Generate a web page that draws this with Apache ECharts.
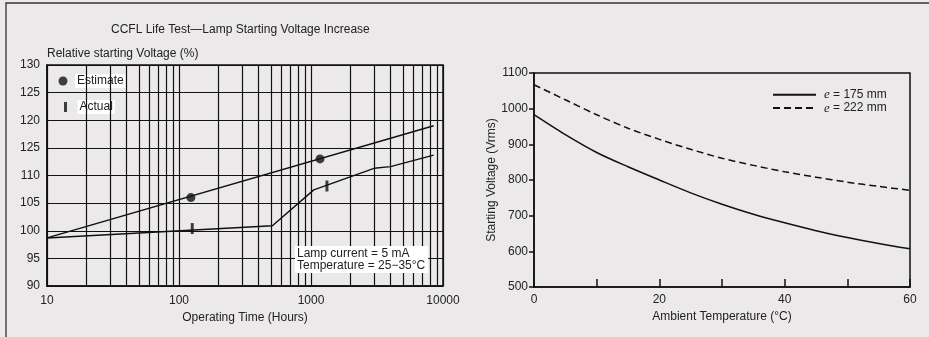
<!DOCTYPE html>
<html>
<head>
<meta charset="utf-8">
<title>CCFL starting voltage</title>
<script src="https://cdn.jsdelivr.net/npm/echarts@6.0.0/dist/echarts.min.js"></script>
<style>
  html, body { margin: 0; padding: 0; background: #ebe9ea; }
  #main { width: 929px; height: 337px; }
</style>
</head>
<body>
<div id="main"></div>
<script>
// left panel: life test, hours on a log axis
var estimateLineHours = [10, 8500];
var estimateLineValues = [98.7, 119.0];
var actualLineHours = [10, 510, 1050, 3000, 4000, 8500];
var actualLineValues = [98.7, 100.9, 107.4, 111.3, 111.6, 113.7];
var estimateHours = [123, 1170];
var estimateValues = [106, 113];
var actualHours = [126, 1320];
var actualValues = [100.4, 108.1];
// log paper lines
var logGridHours = [20, 30, 40, 50, 60, 70, 80, 90,
                    200, 300, 400, 500, 600, 700, 800, 900,
                    2000, 3000, 4000, 5000, 6000, 7000, 8000, 9000];
var leftYTicks = [90, 95, 100, 105, 110, 115, 120, 125, 130];
var leftYLabels = ['90', '95', '100', '105', '110', '125', '120', '125', '130'];

// right panel: starting voltage vs ambient temperature
var ambientTemp = [0, 5, 10, 15, 20, 25, 30, 35, 40, 45, 50, 55, 60];
var voltage175 = [983, 927, 877, 837, 800, 764, 732, 704, 680, 658, 639, 622, 607];
var voltage222 = [1067, 1025, 983, 945, 914, 886, 861, 841, 823, 808, 794, 782, 771];

function pairs(xs, ys) {
  return xs.map(function (x, i) { return [x, ys[i]]; });
}

var FONT = "'Liberation Sans', Arial, sans-serif";
var INK = '#111';
var TXT = '#222';

var myChart = echarts.init(document.getElementById('main'));

var option = {
  backgroundColor: '#ebe9ea',
  animation: false,
  textStyle: { fontFamily: FONT, color: TXT },
  graphic: [{
    type: 'rect', silent: true, z: -1,
    shape: { x: 6, y: 3, width: 1000, height: 400 },
    style: { fill: null, stroke: '#333', lineWidth: 1.3 }
  }],
  title: [{
    text: 'CCFL Life Test\u2014Lamp Starting Voltage Increase',
    left: 111, top: 24, padding: 0,
    textStyle: { fontSize: 12, fontWeight: 'normal', color: TXT, fontFamily: FONT }
  }, {
    text: 'Lamp current = 5 mA\nTemperature = 25\u221235\u00b0C',
    left: 295, top: 246, padding: [1, 3, 1, 2],
    backgroundColor: '#fff',
    textStyle: { fontSize: 12, fontWeight: 'normal', lineHeight: 12.5, color: TXT, fontFamily: FONT }
  }],
  legend: [{
    data: [{ name: 'Estimate', icon: 'circle' }],
    left: 58.5, top: 74, padding: 0,
    itemWidth: 14, itemHeight: 9,
    textStyle: { fontSize: 12, color: TXT, backgroundColor: '#fff', padding: [1, 2, 1, 2] }
  }, {
    data: [{ name: 'Actual', icon: 'path://M0,0L0,0M5.5,0L8.5,0L8.5,10L5.5,10ZM14,10L14,10' }],
    left: 58.5, top: 100, padding: 0,
    itemWidth: 14, itemHeight: 10,
    textStyle: { fontSize: 12, color: TXT, backgroundColor: '#fff', padding: [1, 2, 1, 2] }
  }, {
    data: ['e = 175 mm', 'e = 222 mm'],
    orient: 'vertical',
    left: 772, top: 88, padding: 0,
    itemWidth: 43, itemHeight: 10, itemGap: 0,
    itemStyle: { color: 'rgba(0,0,0,0)', borderWidth: 0, opacity: 0 },
    formatter: function (name) { return '{i|e}' + name.slice(1); },
    textStyle: {
      fontSize: 12, color: TXT, lineHeight: 13.4, padding: [0, 0, 0, 3],
      rich: { i: { fontFamily: "'Liberation Serif', serif", fontStyle: 'italic', fontSize: 13 } }
    }
  }],
  grid: [
    { left: 47, right: 486, top: 65, bottom: 51, show: true, borderColor: INK, borderWidth: 1.5 },
    { left: 534, right: 19, top: 73, bottom: 50, show: true, borderColor: INK, borderWidth: 1.5 }
  ],
  xAxis: [{
    gridIndex: 0, type: 'log', logBase: 10, min: 10, max: 10000,
    name: 'Operating Time (Hours)', nameLocation: 'middle', nameGap: 25,
    nameTextStyle: { fontSize: 12, color: TXT },
    axisLine: { lineStyle: { color: INK, width: 1.5 } },
    axisTick: { show: false },
    axisLabel: { fontSize: 12, color: TXT, margin: 9, formatter: function (v) { return String(Math.round(v)); } },
    splitLine: { show: true, lineStyle: { color: INK, width: 1.2 } }
  }, {
    gridIndex: 1, type: 'value', min: 0, max: 60, interval: 10,
    name: 'Ambient Temperature (\u00b0C)', nameLocation: 'middle', nameGap: 24,
    nameTextStyle: { fontSize: 12, color: TXT },
    axisLine: { lineStyle: { color: INK, width: 1.5 } },
    axisTick: { show: true, inside: true, length: 8, lineStyle: { color: INK, width: 1.5 } },
    axisLabel: { fontSize: 12, color: TXT, margin: 7, formatter: function (v) { return v % 20 === 0 ? String(v) : ''; } },
    splitLine: { show: false }
  }],
  yAxis: [{
    gridIndex: 0, type: 'value', min: 90, max: 130, interval: 5,
    name: 'Relative starting Voltage (%)', nameLocation: 'end', nameGap: 5,
    nameTextStyle: { fontSize: 12, color: TXT, align: 'left' },
    axisLine: { show: true, lineStyle: { color: INK, width: 1.5 } },
    axisTick: { show: false },
    axisLabel: {
      fontSize: 12, color: TXT, margin: 7,
      formatter: function (v) { return leftYLabels[leftYTicks.indexOf(Math.round(v))]; }
    },
    splitLine: { show: true, lineStyle: { color: INK, width: 1.2 } }
  }, {
    gridIndex: 1, type: 'value', min: 500, max: 1100, interval: 100,
    name: 'Starting Voltage (Vrms)', nameLocation: 'middle', nameGap: 36,
    nameTextStyle: { fontSize: 12, color: TXT },
    axisLine: { show: true, lineStyle: { color: INK, width: 1.5 } },
    axisTick: { show: true, length: 5, lineStyle: { color: INK, width: 1.5 } },
    axisLabel: { fontSize: 12, color: TXT, margin: 6, formatter: function (v) { return String(v); } },
    splitLine: { show: false }
  }],
  series: [{
    name: 'Estimate trend', type: 'line', xAxisIndex: 0, yAxisIndex: 0,
    data: pairs(estimateLineHours, estimateLineValues),
    symbol: 'none', lineStyle: { color: INK, width: 1.4 },
    markLine: {
      silent: true, symbol: ['none', 'none'], label: { show: false },
      lineStyle: { color: INK, width: 1.2, type: 'solid' },
      data: logGridHours.map(function (h) { return { xAxis: h }; })
    }
  }, {
    name: 'Actual trend', type: 'line', xAxisIndex: 0, yAxisIndex: 0,
    data: pairs(actualLineHours, actualLineValues),
    symbol: 'none', lineStyle: { color: INK, width: 1.4 }
  }, {
    name: 'Estimate', type: 'scatter', xAxisIndex: 0, yAxisIndex: 0,
    data: pairs(estimateHours, estimateValues),
    symbol: 'circle', symbolSize: 9, itemStyle: { color: INK }, z: 5
  }, {
    name: 'Actual', type: 'scatter', xAxisIndex: 0, yAxisIndex: 0,
    data: pairs(actualHours, actualValues),
    symbol: 'rect', symbolSize: [3, 11], itemStyle: { color: INK }, z: 5
  }, {
    name: 'e = 175 mm', type: 'line', xAxisIndex: 1, yAxisIndex: 1,
    data: pairs(ambientTemp, voltage175), smooth: 0.3,
    symbol: 'none', lineStyle: { color: INK, width: 1.5 }, itemStyle: { color: INK }
  }, {
    name: 'e = 222 mm', type: 'line', xAxisIndex: 1, yAxisIndex: 1,
    data: pairs(ambientTemp, voltage222), smooth: 0.3,
    symbol: 'none', lineStyle: { color: INK, width: 1.5, type: [7, 4] }, itemStyle: { color: INK }
  }]
};

myChart.setOption(option);
</script>
</body>
</html>
